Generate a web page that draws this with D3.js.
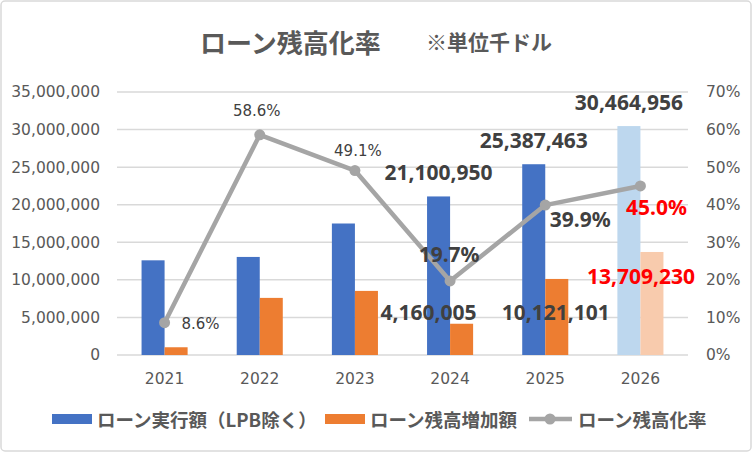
<!DOCTYPE html>
<html>
<head>
<meta charset="utf-8">
<script src="https://cdn.jsdelivr.net/npm/d3@7"></script>
<style>
  body { margin: 0; background: #fff; }
  svg { display: block; }
</style>
</head>
<body>
<div id="chart"></div>
<script>
// data (values in 千ドル)
const years = ['2021', '2022', '2023', '2024', '2025', '2026'];
const loanExec = [12600000, 13050000, 17500000, 21100950, 25387463, 30464956];
const loanIncrease = [1030000, 7600000, 8530000, 4160005, 10121101, 13709230];
const loanRate = [0.086, 0.586, 0.491, 0.197, 0.399, 0.450];
const forecastYears = ['2026'];
const leftTicks = [0, 5e6, 10e6, 15e6, 20e6, 25e6, 30e6, 35e6];
const rightTicks = [0, 0.1, 0.2, 0.3, 0.4, 0.5, 0.6, 0.7];
const seriesNames = ['ローン実行額（LPB除く）', 'ローン残高増加額', 'ローン残高化率'];

// label placement, relative to the mark (null = no label)
const execLabelPos = [null, null, null, [0, -24], [0, -24], [0, -24]];
const incLabelPos = [null, null, null, [-33, -12], [-1, 33], [-11, 24]];
const rateLabelPos = [[36, 1], [-3, -24], [3, -20], [-1, -27], [35, 14], [16, 21]];
const bigRateLabel = [false, false, false, true, true, true];
const redLabelYear = '2026';

const W = 752, H = 452;
const svg = d3.select('#chart').append('svg').attr('width', W).attr('height', H);

svg.append('rect').attr('x', 1).attr('y', 1).attr('width', W - 2).attr('height', H - 2)
  .attr('rx', 4).attr('fill', '#fff').attr('stroke', '#d9d9d9').attr('stroke-width', 1.5);

const cjk = '"Noto Sans CJK JP", "Noto Sans", sans-serif';
const num = '"DejaVu Sans", sans-serif';
const bold = '"Noto Sans", "DejaVu Sans", sans-serif';

// title
const title = svg.append('text').attr('x', 200).attr('y', 41).attr('dominant-baseline', 'central')
  .attr('font-family', cjk).attr('font-weight', 'bold').attr('fill', '#595959');
title.append('tspan').attr('font-size', 26).text('ローン残高化率');
title.append('tspan').attr('font-size', 21).attr('x', 426).text('※単位千ドル');

const plotL = 117, plotR = 688, plotT = 92, plotB = 355;

const x = d3.scaleBand().domain(years).range([plotL, plotR]);
const y = d3.scaleLinear().domain([0, 35e6]).range([plotB, plotT]);
const yR = d3.scaleLinear().domain([0, 0.7]).range([plotB, plotT]);
const groupW = x.bandwidth() * 0.484;
const x1 = d3.scaleBand().domain(['exec', 'inc']).range([0, groupW]);
const barX = (yr, s) => x(yr) + (x.bandwidth() - groupW) / 2 + x1(s);

// gridlines
svg.append('g').selectAll('line').data(leftTicks).join('line')
  .attr('x1', plotL).attr('x2', plotR)
  .attr('y1', d => y(d)).attr('y2', d => y(d))
  .attr('stroke', '#d9d9d9').attr('stroke-width', 1.5);

// axes
const axL = svg.append('g').attr('transform', `translate(${plotL},0)`)
  .call(d3.axisLeft(y).tickValues(leftTicks).tickSize(0).tickPadding(17).tickFormat(d3.format(',')));
const axR = svg.append('g').attr('transform', `translate(${plotR},0)`)
  .call(d3.axisRight(yR).tickValues(rightTicks).tickSize(0).tickPadding(18).tickFormat(d3.format('.0%')));
const axB = svg.append('g').attr('transform', `translate(0,${plotB})`)
  .call(d3.axisBottom(x).tickSize(0).tickPadding(18));
[axL, axR, axB].forEach(a => {
  a.select('.domain').remove();
  a.selectAll('text').attr('font-family', num).attr('font-size', 15.5).attr('fill', '#595959');
});

// bars
const isF = yr => forecastYears.includes(yr);
svg.append('g').selectAll('rect').data(years).join('rect')
  .attr('x', d => barX(d, 'exec')).attr('width', x1.bandwidth())
  .attr('y', (d, i) => y(loanExec[i])).attr('height', (d, i) => plotB - y(loanExec[i]))
  .attr('fill', d => isF(d) ? '#bdd7ee' : '#4472c4');
svg.append('g').selectAll('rect').data(years).join('rect')
  .attr('x', d => barX(d, 'inc')).attr('width', x1.bandwidth())
  .attr('y', (d, i) => y(loanIncrease[i])).attr('height', (d, i) => plotB - y(loanIncrease[i]))
  .attr('fill', d => isF(d) ? '#f8cbad' : '#ed7d31');

// line
const cx = d => x(d) + x.bandwidth() / 2;
const line = d3.line().x(d => cx(d)).y((d, i) => yR(loanRate[i]));
svg.append('path').datum(years).attr('d', line)
  .attr('fill', 'none').attr('stroke', '#a5a5a5').attr('stroke-width', 4.5).attr('stroke-linejoin', 'round');
svg.append('g').selectAll('circle').data(years).join('circle')
  .attr('cx', cx).attr('cy', (d, i) => yR(loanRate[i])).attr('r', 5.5).attr('fill', '#a5a5a5');

// data labels
function label(xp, yp, txt, big, red) {
  svg.append('text').attr('x', xp).attr('y', yp)
    .attr('text-anchor', 'middle').attr('dominant-baseline', 'central')
    .attr('font-family', big ? bold : num).attr('font-size', big ? 21 : 15)
    .attr('font-weight', big ? 'bold' : 'normal')
    .attr('fill', red ? '#ff0000' : '#404040').text(txt);
}
years.forEach((yr, i) => {
  const p = execLabelPos[i];
  if (p) label(barX(yr, 'exec') + x1.bandwidth() / 2 + p[0], y(loanExec[i]) + p[1], d3.format(',')(loanExec[i]), true, false);
  const q = incLabelPos[i];
  if (q) label(barX(yr, 'inc') + x1.bandwidth() / 2 + q[0], y(loanIncrease[i]) + q[1], d3.format(',')(loanIncrease[i]), true, yr === redLabelYear);
  const r = rateLabelPos[i];
  label(cx(yr) + r[0], yR(loanRate[i]) + r[1], d3.format('.1%')(loanRate[i]), bigRateLabel[i], yr === redLabelYear);
});

// legend
const lg = svg.append('g').attr('font-family', cjk).attr('font-size', 18.5).attr('font-weight', 'bold').attr('fill', '#595959');
const ly = 419;
lg.append('rect').attr('x', 52).attr('y', ly - 5).attr('width', 40).attr('height', 10).attr('fill', '#4472c4');
lg.append('text').attr('x', 97).attr('y', ly).attr('dominant-baseline', 'central').text(seriesNames[0]);
lg.append('rect').attr('x', 325).attr('y', ly - 5).attr('width', 40).attr('height', 10).attr('fill', '#ed7d31');
lg.append('text').attr('x', 370).attr('y', ly).attr('dominant-baseline', 'central').text(seriesNames[1]);
lg.append('line').attr('x1', 529).attr('x2', 572).attr('y1', ly).attr('y2', ly).attr('stroke', '#a5a5a5').attr('stroke-width', 4.5);
lg.append('circle').attr('cx', 550).attr('cy', ly).attr('r', 5.5).attr('fill', '#a5a5a5');
lg.append('text').attr('x', 578).attr('y', ly).attr('dominant-baseline', 'central').text(seriesNames[2]);
</script>
</body>
</html>
